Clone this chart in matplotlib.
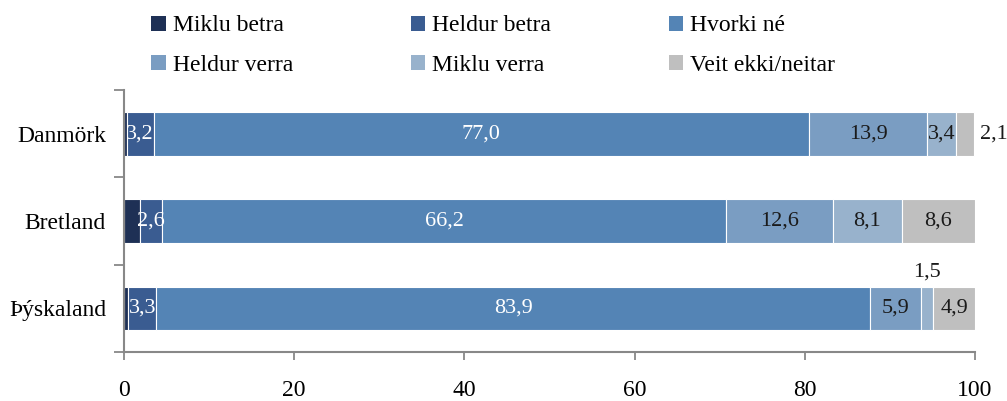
import numpy as np
import matplotlib
matplotlib.use('Agg')
import matplotlib.pyplot as plt
from matplotlib.patches import Patch

#---------------------------------------------------------------
#   DATA
#---------------------------------------------------------------
countries = ['Danmörk', 'Bretland', 'Þýskaland']
series = ['Miklu betra', 'Heldur betra', 'Hvorki né',
          'Heldur verra', 'Miklu verra', 'Veit ekki/neitar']
miklu_betra = [0.3, 1.9, 0.5]
heldur_betra = [3.2, 2.6, 3.3]
hvorki_ne = [77.0, 66.2, 83.9]
heldur_verra = [13.9, 12.6, 5.9]
miklu_verra = [3.4, 8.1, 1.5]
veit_ekki = [2.1, 8.6, 4.9]
values = [miklu_betra, heldur_betra, hvorki_ne, heldur_verra, miklu_verra, veit_ekki]
xticks = [0, 20, 40, 60, 80, 100]

colors = ['#1e3055', '#3a5c91', '#5484b5', '#7a9dc2', '#98b2cc', '#bfbfbf']
txtcol = ['white', 'white', 'white', '#1a1a1a', '#1a1a1a', '#1a1a1a']
grey = '#888888'

plt.rcParams['font.family'] = ['Liberation Serif', 'DejaVu Serif']

#---------------------------------------------------------------
#   PLOTTING
#---------------------------------------------------------------
fig = plt.figure(figsize=(10.07, 4.01), dpi=100)
ax = fig.add_axes([124/1007, 49/401, 851/1007, 262/401])

y = np.arange(len(countries))
left = np.zeros(len(countries))
for k, vals in enumerate(values):
    vals = np.array(vals)
    ax.barh(y, vals, left=left, height=0.5, color=colors[k],
            edgecolor='white', linewidth=0.8, label=series[k])
    if k > 0:
        for i, v in enumerate(vals):
            s = ('%.1f' % v).replace('.', ',')
            cx = left[i] + v / 2
            if k == 5 and v < 3:
                ax.text(100 + 0.6, y[i], s, ha='left', va='center',
                        fontsize=16, color=txtcol[k])
            elif k == 4 and v < 2:
                ax.text(cx, y[i] - 0.31, s, ha='center', va='bottom',
                        fontsize=16, color=txtcol[k])
            else:
                ax.text(cx, y[i], s, ha='center', va='center',
                        fontsize=16, color=txtcol[k])
    left += vals

ax.set_xlim(0, 100)
ax.set_ylim(len(countries) - 0.5, -0.5)
ax.set_xticks(xticks)
ax.set_xticklabels([str(t) for t in xticks])
ax.set_yticks(y)
ax.set_yticklabels(countries)
ax.set_yticks(np.arange(len(countries) + 1) - 0.5, minor=True)

for s in ['top', 'right']:
    ax.spines[s].set_visible(False)
for s in ['left', 'bottom']:
    ax.spines[s].set_color(grey)
    ax.spines[s].set_linewidth(1.5)

ax.tick_params(axis='x', direction='out', length=6, width=1.3, color=grey,
               labelsize=17, pad=14)
ax.tick_params(axis='y', which='major', length=0, labelsize=17, pad=13)
ax.tick_params(axis='y', which='minor', length=7, width=1.3, color=grey)

# legend filled row by row (matplotlib fills columns first)
handles = [Patch(facecolor=colors[k], label=series[k]) for k in range(len(series))]
order = [0, 3, 1, 4, 2, 5]
fig.legend(handles=[handles[k] for k in order], ncol=3, loc='upper left',
           bbox_to_anchor=(136/1007, 1.0), frameon=False, fontsize=17,
           handlelength=0.6, handleheight=0.6, handletextpad=0.3,
           columnspacing=5.0, labelspacing=0.8, borderaxespad=0.25)

fig.savefig('out.png', dpi=100)
